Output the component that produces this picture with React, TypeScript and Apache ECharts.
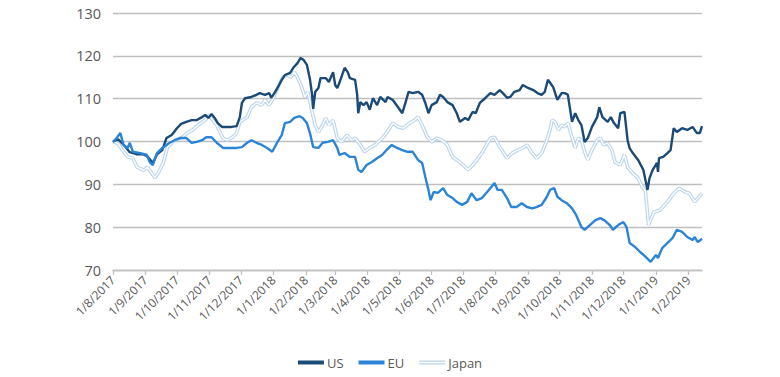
import React, { useEffect, useRef } from "react";
import * as echarts from "echarts";

// ---- Data ----
const startDate = Date.UTC(2017, 7, 1);
const endDate = Date.UTC(2019, 1, 14);

const yTicks = [70, 80, 90, 100, 110, 120, 130];

const usData: [string, number][] = [
  ["2017-08-01", 100.0], ["2017-08-06", 100.5], ["2017-08-12", 99.0], ["2017-08-17", 97.5],
  ["2017-08-24", 97.0], ["2017-08-30", 97.0], ["2017-09-03", 96.5], ["2017-09-08", 95.0],
  ["2017-09-12", 97.0], ["2017-09-17", 98.0], ["2017-09-21", 100.8], ["2017-09-26", 101.5],
  ["2017-10-01", 103.1], ["2017-10-05", 104.1], ["2017-10-10", 104.6], ["2017-10-15", 105.0],
  ["2017-10-20", 105.0], ["2017-10-25", 105.7], ["2017-10-28", 106.2], ["2017-10-31", 105.5],
  ["2017-11-03", 106.4], ["2017-11-06", 105.5], ["2017-11-09", 104.3], ["2017-11-13", 103.4],
  ["2017-11-17", 103.4], ["2017-11-22", 103.4], ["2017-11-27", 103.6], ["2017-11-30", 105.7],
  ["2017-12-02", 109.0], ["2017-12-05", 110.1], ["2017-12-11", 110.4], ["2017-12-16", 110.9],
  ["2017-12-19", 111.3], ["2017-12-24", 110.9], ["2017-12-28", 111.3], ["2017-12-30", 110.2],
  ["2018-01-02", 111.3], ["2018-01-05", 112.5], ["2018-01-09", 114.4], ["2018-01-12", 115.5],
  ["2018-01-17", 116.0], ["2018-01-20", 117.2], ["2018-01-24", 118.3], ["2018-01-27", 119.5],
  ["2018-01-30", 119.0], ["2018-02-02", 117.9], ["2018-02-05", 114.4], ["2018-02-07", 110.9],
  ["2018-02-08", 107.6], ["2018-02-09", 109.7], ["2018-02-10", 111.6], ["2018-02-13", 112.5],
  ["2018-02-15", 114.8], ["2018-02-20", 114.8], ["2018-02-23", 113.9], ["2018-02-27", 116.2],
  ["2018-03-01", 113.2], ["2018-03-03", 112.5], ["2018-03-05", 113.7], ["2018-03-10", 117.2],
  ["2018-03-13", 116.2], ["2018-03-15", 114.8], ["2018-03-20", 114.4], ["2018-03-22", 110.9],
  ["2018-03-23", 106.6], ["2018-03-25", 109.2], ["2018-03-28", 108.5], ["2018-03-31", 109.2],
  ["2018-04-03", 107.4], ["2018-04-06", 110.1], ["2018-04-10", 108.5], ["2018-04-13", 110.4],
  ["2018-04-18", 109.2], ["2018-04-20", 110.4], ["2018-04-25", 109.7], ["2018-04-30", 108.0],
  ["2018-05-04", 106.6], ["2018-05-07", 109.0], ["2018-05-10", 111.6], ["2018-05-14", 111.3],
  ["2018-05-19", 111.6], ["2018-05-23", 110.9], ["2018-05-26", 109.0], ["2018-05-29", 106.6],
  ["2018-06-01", 108.5], ["2018-06-06", 109.2], ["2018-06-09", 110.9], ["2018-06-12", 110.4],
  ["2018-06-16", 109.2], ["2018-06-21", 108.5], ["2018-06-25", 106.6], ["2018-06-28", 104.6],
  ["2018-07-03", 105.5], ["2018-07-06", 105.0], ["2018-07-10", 106.9], ["2018-07-13", 106.6],
  ["2018-07-17", 109.0], ["2018-07-22", 110.1], ["2018-07-27", 111.3], ["2018-07-31", 110.9],
  ["2018-08-05", 112.0], ["2018-08-08", 111.3], ["2018-08-12", 110.2], ["2018-08-15", 110.4],
  ["2018-08-19", 111.6], ["2018-08-24", 112.0], ["2018-08-27", 113.2], ["2018-09-01", 112.5],
  ["2018-09-06", 112.0], ["2018-09-10", 111.3], ["2018-09-14", 110.9], ["2018-09-17", 111.6],
  ["2018-09-20", 114.4], ["2018-09-25", 112.7], ["2018-09-29", 109.7], ["2018-10-03", 111.3],
  ["2018-10-06", 111.3], ["2018-10-09", 110.9], ["2018-10-13", 104.6], ["2018-10-16", 106.6],
  ["2018-10-19", 105.0], ["2018-10-22", 103.8], ["2018-10-25", 99.9], ["2018-10-28", 100.8],
  ["2018-11-01", 103.4], ["2018-11-06", 105.7], ["2018-11-08", 108.0], ["2018-11-11", 105.7],
  ["2018-11-16", 104.6], ["2018-11-19", 105.7], ["2018-11-22", 104.3], ["2018-11-26", 103.1],
  ["2018-11-28", 106.6], ["2018-12-02", 106.9], ["2018-12-05", 100.3], ["2018-12-07", 98.4],
  ["2018-12-10", 97.3], ["2018-12-15", 95.7], ["2018-12-20", 93.4], ["2018-12-24", 88.7],
  ["2018-12-26", 91.5], ["2018-12-29", 93.4], ["2019-01-02", 95.0], ["2019-01-03", 92.9],
  ["2019-01-04", 96.1], ["2019-01-08", 96.4], ["2019-01-12", 97.3], ["2019-01-15", 98.0],
  ["2019-01-18", 103.1], ["2019-01-21", 102.2], ["2019-01-26", 103.1], ["2019-01-31", 102.7],
  ["2019-02-05", 103.4], ["2019-02-09", 102.0], ["2019-02-12", 102.0], ["2019-02-14", 103.6],
];

const euData: [string, number][] = [
  ["2017-08-01", 99.8], ["2017-08-05", 101.0], ["2017-08-08", 102.0], ["2017-08-11", 99.2],
  ["2017-08-15", 98.5], ["2017-08-17", 99.7], ["2017-08-20", 97.6], ["2017-08-27", 97.3],
  ["2017-09-02", 96.9], ["2017-09-05", 95.2], ["2017-09-08", 94.5], ["2017-09-12", 97.3],
  ["2017-09-17", 98.5], ["2017-09-24", 99.7], ["2017-09-29", 100.3], ["2017-10-04", 100.8],
  ["2017-10-10", 100.8], ["2017-10-15", 99.7], ["2017-10-20", 99.9], ["2017-10-25", 100.3],
  ["2017-10-29", 101.0], ["2017-11-03", 101.0], ["2017-11-08", 99.7], ["2017-11-14", 98.5],
  ["2017-11-20", 98.5], ["2017-11-27", 98.5], ["2017-12-02", 98.7], ["2017-12-07", 99.7],
  ["2017-12-11", 100.3], ["2017-12-16", 99.7], ["2017-12-21", 99.2], ["2017-12-26", 98.5],
  ["2017-12-31", 97.6], ["2018-01-05", 99.9], ["2018-01-09", 101.5], ["2018-01-12", 104.3],
  ["2018-01-17", 104.6], ["2018-01-21", 105.5], ["2018-01-26", 105.9], ["2018-01-29", 105.5],
  ["2018-02-02", 104.3], ["2018-02-05", 101.9], ["2018-02-08", 98.7], ["2018-02-13", 98.5],
  ["2018-02-17", 99.7], ["2018-02-22", 99.9], ["2018-02-27", 100.3], ["2018-03-03", 98.5],
  ["2018-03-05", 96.9], ["2018-03-10", 97.3], ["2018-03-15", 96.4], ["2018-03-20", 96.4],
  ["2018-03-23", 93.4], ["2018-03-26", 92.9], ["2018-03-31", 94.5], ["2018-04-05", 95.2],
  ["2018-04-10", 96.1], ["2018-04-15", 96.9], ["2018-04-19", 98.0], ["2018-04-24", 99.2],
  ["2018-04-29", 98.5], ["2018-05-04", 98.0], ["2018-05-09", 97.6], ["2018-05-14", 97.6],
  ["2018-05-19", 95.7], ["2018-05-23", 95.0], ["2018-05-26", 91.7], ["2018-05-29", 88.7],
  ["2018-05-31", 86.3], ["2018-06-03", 88.2], ["2018-06-07", 88.0], ["2018-06-12", 89.1],
  ["2018-06-16", 87.5], ["2018-06-21", 86.8], ["2018-06-25", 85.9], ["2018-06-30", 85.2],
  ["2018-07-05", 85.9], ["2018-07-09", 87.9], ["2018-07-14", 86.3], ["2018-07-19", 86.8],
  ["2018-07-24", 88.2], ["2018-07-27", 89.1], ["2018-07-31", 90.3], ["2018-08-03", 88.7],
  ["2018-08-07", 88.7], ["2018-08-12", 86.8], ["2018-08-16", 84.7], ["2018-08-21", 84.7],
  ["2018-08-26", 85.6], ["2018-08-31", 84.7], ["2018-09-05", 84.4], ["2018-09-09", 84.7],
  ["2018-09-14", 85.2], ["2018-09-19", 87.1], ["2018-09-22", 88.7], ["2018-09-26", 89.1],
  ["2018-09-29", 87.1], ["2018-10-03", 86.3], ["2018-10-08", 85.6], ["2018-10-13", 84.4],
  ["2018-10-17", 82.8], ["2018-10-22", 80.0], ["2018-10-25", 79.4], ["2018-10-30", 80.5],
  ["2018-11-04", 81.6], ["2018-11-09", 82.1], ["2018-11-13", 81.6], ["2018-11-18", 80.5],
  ["2018-11-21", 79.4], ["2018-11-26", 80.5], ["2018-12-01", 81.2], ["2018-12-04", 80.0],
  ["2018-12-07", 76.3], ["2018-12-12", 75.4], ["2018-12-17", 74.2], ["2018-12-22", 73.1],
  ["2018-12-27", 71.9], ["2019-01-01", 73.5], ["2019-01-03", 72.8], ["2019-01-07", 75.1],
  ["2019-01-12", 76.3], ["2019-01-17", 77.5], ["2019-01-21", 79.4], ["2019-01-26", 78.9],
  ["2019-01-31", 77.7], ["2019-02-05", 77.0], ["2019-02-07", 77.7], ["2019-02-10", 76.5],
  ["2019-02-14", 77.3],
];

const japanData: [string, number][] = [
  ["2017-08-01", 100.0], ["2017-08-06", 99.5], ["2017-08-10", 98.0], ["2017-08-15", 96.4],
  ["2017-08-20", 96.1], ["2017-08-24", 94.0], ["2017-08-30", 93.3], ["2017-09-03", 94.0],
  ["2017-09-10", 91.5], ["2017-09-13", 92.6], ["2017-09-18", 95.0], ["2017-09-22", 98.7],
  ["2017-09-29", 100.3], ["2017-10-05", 100.8], ["2017-10-11", 102.0], ["2017-10-16", 102.7],
  ["2017-10-21", 103.8], ["2017-10-28", 105.0], ["2017-11-01", 106.2], ["2017-11-04", 105.0],
  ["2017-11-08", 103.8], ["2017-11-11", 102.2], ["2017-11-14", 100.8], ["2017-11-18", 100.3],
  ["2017-11-23", 101.0], ["2017-11-27", 102.0], ["2017-11-30", 104.5], ["2017-12-03", 105.0],
  ["2017-12-07", 105.7], ["2017-12-11", 108.0], ["2017-12-16", 109.0], ["2017-12-21", 108.5],
  ["2017-12-24", 109.7], ["2017-12-28", 108.5], ["2017-12-31", 109.7], ["2018-01-05", 112.5],
  ["2018-01-10", 115.0], ["2018-01-14", 115.5], ["2018-01-18", 115.0], ["2018-01-21", 116.2],
  ["2018-01-24", 115.0], ["2018-01-28", 112.7], ["2018-01-31", 110.4], ["2018-02-03", 111.6],
  ["2018-02-07", 106.9], ["2018-02-10", 103.8], ["2018-02-13", 102.2], ["2018-02-17", 103.8],
  ["2018-02-20", 105.5], ["2018-02-23", 103.8], ["2018-02-27", 105.0], ["2018-03-03", 100.8],
  ["2018-03-07", 99.9], ["2018-03-12", 101.5], ["2018-03-17", 100.3], ["2018-03-20", 100.8],
  ["2018-03-25", 99.2], ["2018-03-29", 97.6], ["2018-04-03", 98.5], ["2018-04-08", 99.2],
  ["2018-04-15", 100.8], ["2018-04-19", 102.0], ["2018-04-25", 104.3], ["2018-04-30", 103.4],
  ["2018-05-05", 103.1], ["2018-05-11", 104.3], ["2018-05-16", 105.0], ["2018-05-19", 105.7],
  ["2018-05-23", 103.8], ["2018-05-28", 101.0], ["2018-06-01", 99.9], ["2018-06-06", 100.8],
  ["2018-06-11", 100.3], ["2018-06-16", 99.2], ["2018-06-21", 96.4], ["2018-06-28", 95.2],
  ["2018-07-06", 93.4], ["2018-07-12", 95.0], ["2018-07-19", 97.3], ["2018-07-27", 100.8],
  ["2018-07-31", 101.0], ["2018-08-05", 98.7], ["2018-08-12", 96.1], ["2018-08-17", 97.3],
  ["2018-08-22", 98.0], ["2018-08-27", 98.5], ["2018-08-31", 99.2], ["2018-09-05", 97.3],
  ["2018-09-09", 96.1], ["2018-09-14", 97.3], ["2018-09-19", 100.3], ["2018-09-22", 102.7],
  ["2018-09-24", 105.0], ["2018-09-27", 104.5], ["2018-09-30", 102.7], ["2018-10-03", 103.8],
  ["2018-10-06", 103.4], ["2018-10-09", 104.3], ["2018-10-13", 101.0], ["2018-10-16", 98.5],
  ["2018-10-19", 100.8], ["2018-10-22", 100.3], ["2018-10-25", 97.6], ["2018-10-28", 95.7],
  ["2018-11-01", 98.0], ["2018-11-06", 100.3], ["2018-11-09", 100.8], ["2018-11-12", 99.2],
  ["2018-11-16", 99.6], ["2018-11-20", 98.0], ["2018-11-23", 95.2], ["2018-11-28", 94.5],
  ["2018-12-02", 96.9], ["2018-12-05", 94.0], ["2018-12-10", 92.6], ["2018-12-15", 91.5],
  ["2018-12-19", 89.4], ["2018-12-22", 88.5], ["2018-12-25", 80.5], ["2018-12-30", 83.5],
  ["2019-01-05", 84.0], ["2019-01-12", 85.9], ["2019-01-18", 87.9], ["2019-01-23", 89.1],
  ["2019-01-29", 88.2], ["2019-02-02", 87.9], ["2019-02-07", 85.9], ["2019-02-14", 87.9],
];

const seriesNames = ["US", "EU", "Japan"];
const seriesColors = ["#1b4a76", "#2b84d6", "#bcd5ee"];

// Calendar-day categories for the date axis
const categories: string[] = [];
for (let t = startDate; t <= endDate; t += 86400000) {
  categories.push(new Date(t).toISOString().slice(0, 10));
}

const isMonthStart = (_i: number, v: string) => v.endsWith("-01");
const fmtDate = (v: string) => {
  const [y, m, d] = v.split("-");
  return `${+d}/${+m}/${y}`;
};

const FONT = "'Open Sans', 'Noto Sans', sans-serif";
const TEXT = "#595959";

export default function App() {
  const ref = useRef<HTMLDivElement>(null);
  useEffect(() => {
    if (!ref.current) return;
    const chart = echarts.init(ref.current, undefined, { renderer: "svg" });
    chart.setOption({
      animation: false,
      backgroundColor: "#ffffff",
      grid: { left: 113, right: 78, top: 13, bottom: 107 },
      legend: {
        top: 351,
        left: "center",
        itemWidth: 26,
        itemHeight: 4,
        itemGap: 15,
        textStyle: { color: TEXT, fontSize: 13, fontFamily: FONT, padding: [0, 0, 0, -2] },
        data: [
          { name: seriesNames[0], icon: "rect" },
          { name: seriesNames[1], icon: "rect" },
          { name: seriesNames[2], icon: "path://M0,0H30V1.3H0ZM0,3.2H30V4.5H0Z" },
        ],
      },
      xAxis: {
        type: "category",
        data: categories,
        boundaryGap: false,
        axisLine: { show: true, lineStyle: { color: "#bfbfbf", width: 1.3 } },
        axisTick: { show: true, interval: isMonthStart, length: 5, lineStyle: { color: "#bfbfbf", width: 1.3 } },
        axisLabel: {
          interval: isMonthStart,
          rotate: 45,
          margin: 8,
          color: TEXT,
          fontSize: 12,
          fontFamily: FONT,
          formatter: fmtDate,
        },
        splitLine: { show: false },
      },
      yAxis: {
        type: "value",
        min: yTicks[0],
        max: yTicks[yTicks.length - 1],
        interval: 10,
        axisLine: { show: false },
        axisTick: { show: false },
        axisLabel: { color: TEXT, fontSize: 14.5, fontFamily: FONT, margin: 12 },
        splitLine: { lineStyle: { color: "#bfbfbf", width: 1.3 } },
      },
      series: [
        {
          name: seriesNames[2],
          type: "line",
          data: japanData,
          symbol: "none",
          color: seriesColors[2],
          lineStyle: { color: seriesColors[2], width: 3.6 },
          z: 2,
        },
        {
          name: "JapanInner",
          type: "line",
          data: japanData,
          symbol: "none",
          color: "#ffffff",
          lineStyle: { color: "#ffffff", width: 1.3 },
          silent: true,
          z: 2,
        },
        {
          name: seriesNames[0],
          type: "line",
          data: usData,
          symbol: "none",
          color: seriesColors[0],
          lineStyle: { color: seriesColors[0], width: 2.4 },
          z: 3,
        },
        {
          name: seriesNames[1],
          type: "line",
          data: euData,
          symbol: "none",
          color: seriesColors[1],
          lineStyle: { color: seriesColors[1], width: 2.4 },
          z: 4,
        },
      ],
    });
    return () => chart.dispose();
  }, []);
  return (
    <div
      ref={ref}
      style={{ position: "fixed", left: 0, top: 0, width: 780, height: 377, background: "#fff" }}
    />
  );
}
